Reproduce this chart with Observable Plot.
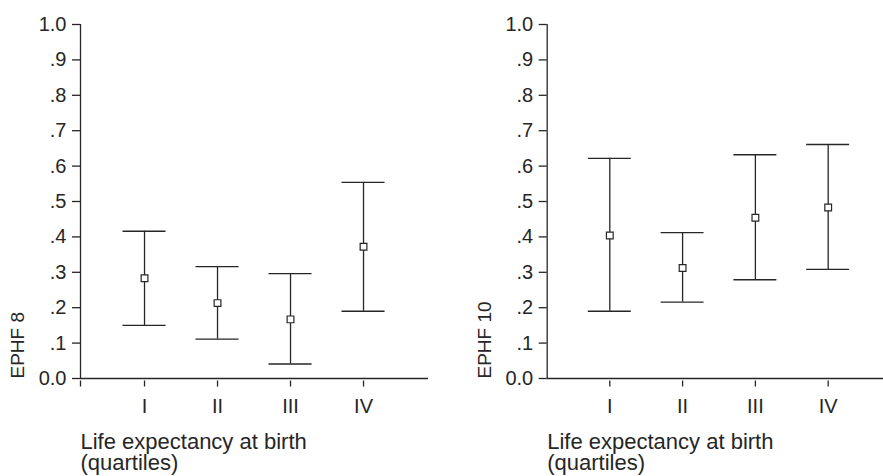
<!DOCTYPE html>
<html><head><meta charset="utf-8">
<script src="https://cdn.jsdelivr.net/npm/d3@7"></script>
<script src="https://cdn.jsdelivr.net/npm/@observablehq/plot@0.6"></script>
<style>
body{margin:0;background:#fff;}
#wrap{display:flex;width:883px;height:476px;overflow:hidden;}
#wrap svg{flex:none;}
</style></head><body><div id="wrap"></div>
<script>
const quartiles = ["I", "II", "III", "IV"];
const quartilePos = [1, 2, 3, 4];

const ephf8Mean  = [0.283, 0.213, 0.167, 0.372];
const ephf8Lower = [0.150, 0.111, 0.041, 0.190];
const ephf8Upper = [0.416, 0.316, 0.296, 0.554];

const ephf10Mean  = [0.404, 0.312, 0.454, 0.483];
const ephf10Lower = [0.190, 0.216, 0.279, 0.308];
const ephf10Upper = [0.622, 0.412, 0.632, 0.661];

const yTicks = [0, 0.1, 0.2, 0.3, 0.4, 0.5, 0.6, 0.7, 0.8, 0.9, 1.0];
const yTickLabels = ["0.0", ".1", ".2", ".3", ".4", ".5", ".6", ".7", ".8", ".9", "1.0"];
const xLabel = "Life expectancy at birth\n(quartiles)";
const panelLabels = ["EPHF 8", "EPHF 10"];

const ink = "#262626";
const capHalf = 0.295;
const font = "'Liberation Sans', Arial, Helvetica, sans-serif";

function panel({mean, lower, upper, yLabel, width, marginLeft, marginRight, xDomain, startTick, yLabelDx}) {
  const data = quartiles.map((q, i) => ({q, x: quartilePos[i], mean: mean[i], lo: lower[i], hi: upper[i]}));
  const xTicks = startTick ? [xDomain[0], ...quartilePos] : quartilePos;
  return Plot.plot({
    width, height: 476, marginLeft, marginRight, marginTop: 24, marginBottom: 98,
    style: {fontFamily: font, color: ink, background: "#fff", overflow: "visible"},
    x: {type: "linear", domain: xDomain, axis: null},
    y: {domain: [0, 1], axis: null},
    marks: [
      Plot.axisY({ticks: yTicks, tickFormat: d => yTickLabels[yTicks.indexOf(d)], tickSize: 8, tickPadding: 6, fontSize: 20, strokeWidth: 1.3, label: null}),
      Plot.axisX({ticks: xTicks, tickFormat: d => (quartilePos.includes(d) ? quartiles[quartilePos.indexOf(d)] : ""), tickSize: 6, dy: 2.5, tickPadding: 12, fontSize: 20, strokeWidth: 1.3, label: null}),
      Plot.ruleX([xDomain[0]], {x: d => d, y1: 0, y2: 1, stroke: ink, strokeWidth: 1.3}),
      Plot.ruleY([0], {stroke: ink, strokeWidth: 1.3}),
      Plot.ruleX(data, {x: "x", y1: "lo", y2: "hi", stroke: ink, strokeWidth: 1.3}),
      Plot.ruleY(data, {y: "hi", x1: d => d.x - capHalf, x2: d => d.x + capHalf, stroke: ink, strokeWidth: 1.3}),
      Plot.ruleY(data, {y: "lo", x1: d => d.x - capHalf, x2: d => d.x + capHalf, stroke: ink, strokeWidth: 1.3}),
      Plot.dot(data, {x: "x", y: "mean", symbol: "square", r: 3.8, fill: "white", stroke: ink, strokeWidth: 1.2}),
      Plot.text([yLabel], {text: d => d, frameAnchor: "bottom-left", rotate: -90, textAnchor: "start", lineAnchor: "bottom", dx: yLabelDx, fontSize: 19, fill: ink}),
      Plot.text([xLabel], {text: d => d, frameAnchor: "bottom-left", textAnchor: "start", lineAnchor: "top", dy: 55, fontSize: 22, lineHeight: 0.98, fill: ink})
    ]
  });
}

const wrap = document.getElementById("wrap");
wrap.append(panel({mean: ephf8Mean, lower: ephf8Lower, upper: ephf8Upper, yLabel: panelLabels[0],
  width: 440, marginLeft: 80, marginRight: 12, xDomain: [0.123, 4.89], startTick: true, yLabelDx: -56.7}));
wrap.append(panel({mean: ephf10Mean, lower: ephf10Lower, upper: ephf10Upper, yLabel: panelLabels[1],
  width: 443, marginLeft: 106.7, marginRight: 0, xDomain: [0.14, 4.76], startTick: false, yLabelDx: -56.7}));
</script></body></html>
